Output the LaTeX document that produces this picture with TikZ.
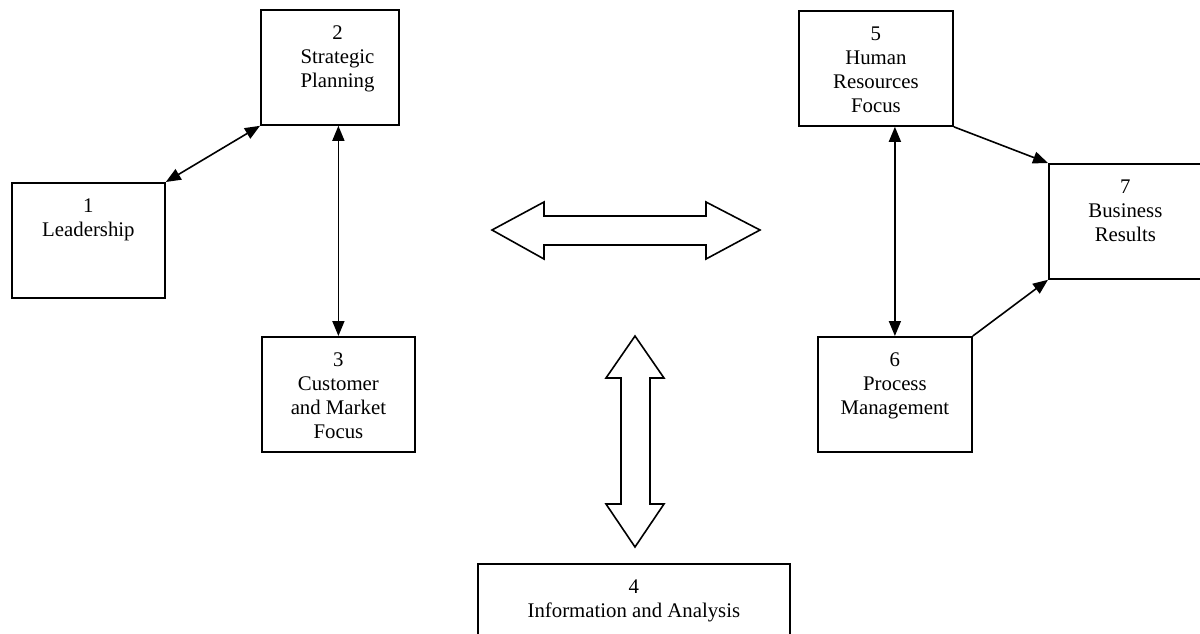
\documentclass[tikz,border=0pt]{standalone}
\usepackage{fontspec}
\setmainfont{Liberation Serif}
\usetikzlibrary{arrows.meta}
\begin{document}
\begin{tikzpicture}[x=1pt,y=-1pt,
  box/.style={draw, line width=1.8pt, inner sep=0pt, anchor=north west},
  lbl/.style={anchor=north, inner sep=0pt, align=center, font=\fontsize{20.8}{24}\selectfont},
  con/.style={line width=1.6pt, -{Triangle[length=15pt,width=12pt]}},
  biarr/.style={line width=1.6pt, {Triangle[length=15pt,width=12pt]}-{Triangle[length=15pt,width=12pt]}},
  blk/.style={draw, line width=1.6pt, fill=white, line join=miter}]
\useasboundingbox (0,0) rectangle (1200,633);
\clip (0,0) rectangle (1200,633);
% boxes
\node[box, minimum width=153pt, minimum height=115pt] (b1) at (11,182) {};
\node[box, minimum width=138pt, minimum height=115pt] (b2) at (260,9) {};
\node[box, minimum width=153pt, minimum height=115pt] (b3) at (261,336) {};
\node[box, minimum width=312pt, minimum height=115pt] (b4) at (477,563) {};
\node[box, minimum width=154pt, minimum height=115pt] (b5) at (798,10) {};
\node[box, minimum width=154pt, minimum height=115pt] (b6) at (817,336) {};
\node[box, minimum width=153pt, minimum height=115pt] (b7) at (1048,163) {};
% labels
\node[lbl] (t1) at ([yshift=-17pt]b1.north) {1\\Leadership};
\node[lbl] (t2) at (337.5,26) {2\\Strategic\\Planning};
\node[lbl] (t3) at ([yshift=-17pt]b3.north) {3\\Customer\\and Market\\Focus};
\node[lbl] (t4) at ([yshift=-17pt]b4.north) {4\\Information and Analysis};
\node[lbl] (t5) at ([yshift=-17pt]b5.north) {5\\Human\\Resources\\Focus};
\node[lbl] (t6) at ([yshift=-17pt]b6.north) {6\\Process\\Management};
\node[lbl] (t7) at ([yshift=-17pt]b7.north) {7\\Business\\Results};
% connectors
\draw[biarr] (b1.north east) -- (b2.south west);
\draw[biarr] (b2.south -| b3.north) -- (b3.north);
\draw[biarr] (b5.south -| b6.north) -- (b6.north);
\draw[con] (b5.south east) -- (b7.north west);
\draw[con] (b6.north east) -- (b7.south west);
% block arrows
\draw[blk] (492,230) -- (544,202) -- (544,216) -- (706,216) -- (706,202) -- (760,230)
  -- (706,259) -- (706,245) -- (544,245) -- (544,259) -- cycle;
\draw[blk] (635,336) -- (664,378) -- (650,378) -- (650,504) -- (664,504) -- (635,547)
  -- (606,504) -- (621,504) -- (621,378) -- (606,378) -- cycle;
\end{tikzpicture}
\end{document}
